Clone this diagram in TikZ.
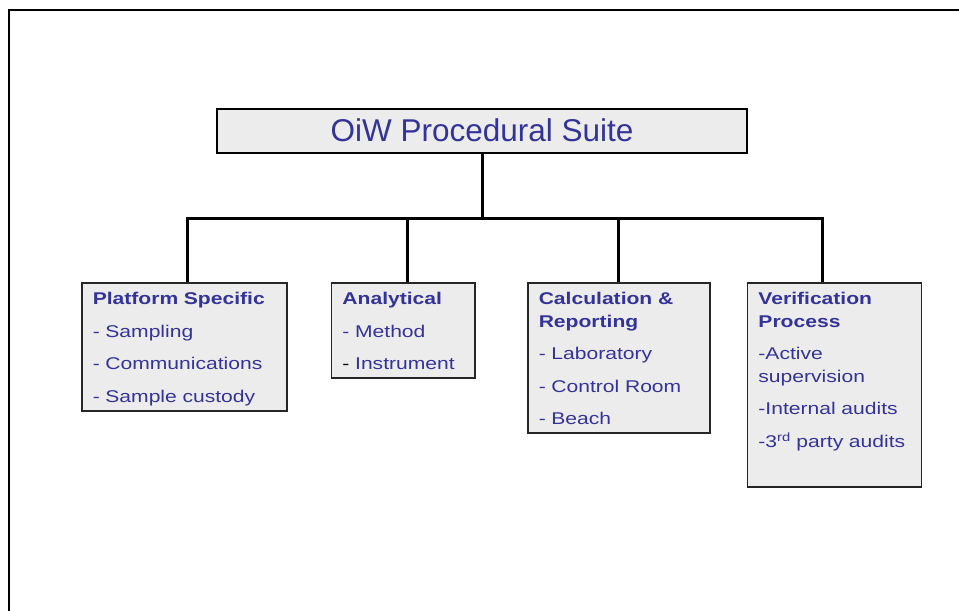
\documentclass[tikz,border=0pt]{standalone}
\usepackage{fontspec}
\setmainfont{Liberation Sans}
\newfontfamily\leaffont[FakeStretch=1.24]{Liberation Sans}
\definecolor{suiteblue}{RGB}{51,51,153}
\definecolor{boxgray}{RGB}{236,236,236}

\tikzset{
  headbox/.style={draw=black, line width=2.5bp, fill=boxgray,
    minimum width=530bp, minimum height=44bp, inner sep=0pt,
    text height=22bp, text depth=0bp, text=suiteblue,
    font=\fontsize{31.5bp}{36bp}\selectfont},
  leafbox/.style 2 args={draw=black!85, line width=1.5bp, fill=boxgray,
    anchor=north west, inner xsep=11bp, inner ysep=9.5bp,
    text width=#1, text height=12.5bp, text depth=#2, align=left,
    text=suiteblue, font=\leaffont\fontsize{17bp}{22.5bp}\selectfont},
  link/.style={line width=3bp}
}

\begin{document}
\begin{tikzpicture}[x=1bp, y=-1bp]
\useasboundingbox (0,0) rectangle (959,611);
% page frame, only its top and left edges show
\draw[line width=2bp] (9,640) -- (9,10) -- (990,10);

\node[headbox] (suite) at (482,131) {OiW Procedural Suite};

\node[leafbox={183bp}{96.5bp}] (platform) at (81,282)
  {\textbf{Platform Specific}\\[10bp]- Sampling\\[10bp]- Communications\\[10bp]- Sample custody};
\node[leafbox={121.3bp}{63.5bp}] (analytical) at (330.7,282)
  {\textbf{Analytical}\\[10bp]- Method\\[10bp]{\color{black}-} Instrument};
\node[leafbox={160bp}{118.5bp}] (calc) at (527,282)
  {\textbf{Calculation \&}\\\textbf{Reporting}\\[10bp]- Laboratory\\[10bp]- Control Room\\[10bp]- Beach};
\node[leafbox={152bp}{172.5bp}] (verif) at (746.7,282)
  {\textbf{Verification}\\\textbf{Process}\\[10bp]-Active\\supervision\\[10bp]-Internal audits\\[10bp]-3\textsuperscript{rd} party audits};

% tree lines
\path (suite.south) ++(0,64) coordinate (hub);
\draw[link] (suite.south) -- (hub);
\draw[link] (hub) -| ([xshift=3.5bp]platform.north);
\draw[link] (hub) -| ([xshift=4.3bp]analytical.north);
\draw[link] (hub) -| (calc.north);
\draw[link] (hub) -| ([xshift=-11.7bp]verif.north);
\end{tikzpicture}
\end{document}
